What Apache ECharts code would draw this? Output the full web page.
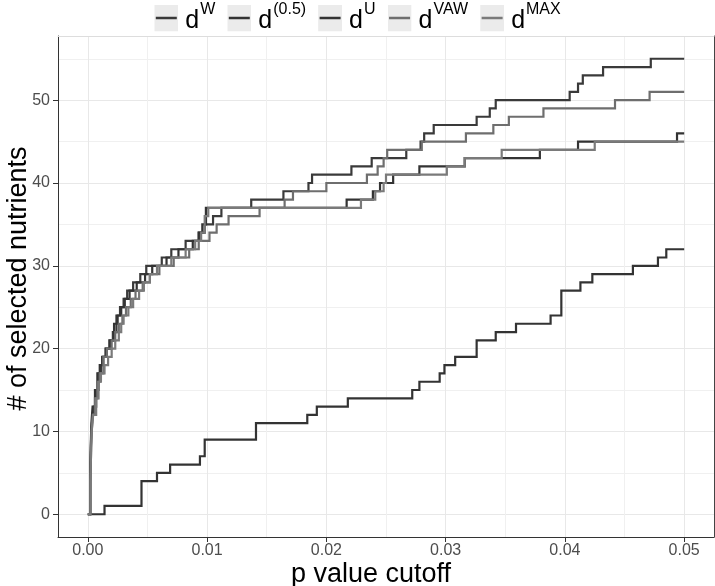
<!DOCTYPE html>
<html><head><meta charset="utf-8">
<script src="https://cdn.jsdelivr.net/npm/echarts@6/dist/echarts.min.js"></script>
<style>html,body{margin:0;padding:0;background:#fff}#c{width:715px;height:586px}</style>
</head><body><div id="c"></div>
<script>
// ---- data (p value cutoff where the count changes, count from there on) ----
const seriesNames = ['W', '(0.5)', 'U', 'VAW', 'MAX'];

const dW_p = [0, 0.0002, 0.00025, 0.0003, 0.0004, 0.0005, 0.0007, 0.0009, 0.0011, 0.0013, 0.0015, 0.0018, 0.0021, 0.0024, 0.0027, 0.003, 0.0033, 0.0038, 0.0044, 0.0049, 0.0062, 0.007, 0.0082, 0.0093, 0.0098, 0.0105, 0.0112, 0.0137, 0.0164, 0.0185, 0.0188, 0.0221, 0.0238, 0.0267, 0.0279, 0.0282, 0.029, 0.0326, 0.0337, 0.0342, 0.0404, 0.0411, 0.0415, 0.0432, 0.0472, 0.05];
const dW_n = [0, 4, 8, 10, 12, 13, 15, 17, 18, 19, 20, 21, 22, 24, 25, 26, 27, 28, 29, 30, 31, 32, 33, 34, 35, 36, 37, 38, 39, 40, 41, 42, 43, 44, 45, 46, 47, 48, 49, 50, 51, 52, 53, 54, 55, 55];

const d05_p = [0, 0.0002, 0.00026, 0.0003, 0.0004, 0.0006, 0.0008, 0.001, 0.0012, 0.0015, 0.0019, 0.0022, 0.0025, 0.0028, 0.0031, 0.0035, 0.0041, 0.0048, 0.0054, 0.0066, 0.0076, 0.0088, 0.0093, 0.0096, 0.0099, 0.0217, 0.0239, 0.0245, 0.0256, 0.0278, 0.0316, 0.0379, 0.0411, 0.0494, 0.05];
const d05_n = [0, 5, 9, 11, 13, 15, 17, 18, 19, 20, 21, 23, 24, 25, 26, 27, 28, 29, 30, 31, 32, 33, 34, 35, 37, 38, 39, 40, 41, 42, 43, 44, 45, 46, 46];

const dU_p = [0, 0.0014, 0.0045, 0.0058, 0.0069, 0.0094, 0.0098, 0.0141, 0.0184, 0.0192, 0.0218, 0.0272, 0.0278, 0.0295, 0.0299, 0.0308, 0.0326, 0.0342, 0.0359, 0.0388, 0.0397, 0.0413, 0.0423, 0.0457, 0.0478, 0.0485, 0.05];
const dU_n = [0, 1, 4, 5, 6, 7, 9, 11, 12, 13, 14, 15, 16, 17, 18, 19, 21, 22, 23, 24, 27, 28, 29, 30, 31, 32, 32];

const dVAW_p = [0, 0.00022, 0.00028, 0.00033, 0.00042, 0.0006, 0.0008, 0.001, 0.0013, 0.0016, 0.002, 0.0023, 0.0026, 0.0029, 0.0032, 0.0036, 0.004, 0.0046, 0.0052, 0.006, 0.0072, 0.0085, 0.0093, 0.0102, 0.0108, 0.0118, 0.0144, 0.0165, 0.0172, 0.02, 0.0234, 0.0243, 0.0248, 0.0251, 0.028, 0.0317, 0.034, 0.0353, 0.0382, 0.0442, 0.0471, 0.05];
const dVAW_n = [0, 4, 8, 10, 12, 14, 16, 17, 19, 20, 21, 22, 23, 24, 25, 26, 27, 28, 29, 30, 31, 32, 33, 34, 35, 36, 37, 38, 39, 40, 41, 42, 43, 44, 45, 46, 47, 48, 49, 50, 51, 51];

const dMAX_p = [0, 0.00022, 0.00028, 0.00032, 0.00045, 0.0007, 0.0009, 0.0011, 0.0014, 0.0017, 0.002, 0.0023, 0.0026, 0.0028, 0.003, 0.0034, 0.0038, 0.0043, 0.0047, 0.0052, 0.0058, 0.007, 0.0082, 0.009, 0.0095, 0.0098, 0.0101, 0.0229, 0.0241, 0.0248, 0.025, 0.0301, 0.0316, 0.0347, 0.0425, 0.05];
const dMAX_n = [0, 4, 8, 10, 12, 14, 16, 17, 18, 19, 20, 21, 22, 23, 24, 25, 26, 27, 28, 29, 30, 31, 32, 33, 34, 36, 37, 38, 39, 40, 41, 42, 43, 44, 45, 45];

const xTicks = [0, 0.01, 0.02, 0.03, 0.04, 0.05];
const xMinor = [0.005, 0.015, 0.025, 0.035, 0.045];
const yTicks = [0, 10, 20, 30, 40, 50];
const yMinor = [5, 15, 25, 35, 45, 55];

// ---- styling ----
const colors = ['#3a3a3a', '#333333', '#333333', '#6e6e6e', '#7a7a7a'];
const FONT = 'Liberation Sans, Arial, Helvetica, sans-serif';
const pairs = (p, n) => p.slice(0, Math.min(p.length, n.length)).map((v, i) => [v, n[i]]);
const allData = [pairs(dW_p, dW_n), pairs(d05_p, d05_n), pairs(dU_p, dU_n), pairs(dVAW_p, dVAW_n), pairs(dMAX_p, dMAX_n)];

function keyIcon(color) {
  const svg = "<svg xmlns='http://www.w3.org/2000/svg' width='24' height='27'>" +
    "<rect width='24' height='27' fill='#ebebeb'/>" +
    "<line x1='1.5' y1='13.5' x2='22.5' y2='13.5' stroke='" + color + "' stroke-width='2.4'/></svg>";
  return 'image://data:image/svg+xml;charset=utf-8,' + encodeURIComponent(svg);
}

const chart = echarts.init(document.getElementById('c'), null, {renderer: 'canvas'});
const xBase = {type: 'value', min: -0.0025, max: 0.0525, gridIndex: 0};
const yBase = {type: 'value', min: -2.75, max: 57.75, gridIndex: 0};

chart.setOption({
  animation: false,
  backgroundColor: '#fff',
  grid: {left: 58, right: 1, top: 36, bottom: 49, containLabel: false, outerBoundsMode: 'none'},
  legend: {
    top: -3, left: 'center', itemGap: 12, itemWidth: 24, itemHeight: 27,
    data: seriesNames.map((n, i) => ({name: n, icon: keyIcon(colors[i])})),
    formatter: name => '{d|d}{s|' + name + '}',
    textStyle: {
      fontFamily: FONT, color: '#000', padding: [0, 0, 0, 2],
      rich: {
        d: {fontSize: 25, fontFamily: FONT, color: '#000', lineHeight: 32, verticalAlign: 'bottom'},
        s: {fontSize: 16, fontFamily: FONT, color: '#000', lineHeight: 32, verticalAlign: 'top', padding: [0, 0, 0, 1]}
      }
    }
  },
  xAxis: [
    Object.assign({}, xBase, {
      name: 'p value cutoff', nameLocation: 'middle', nameGap: 24, nameMoveOverlap: false,
      nameTextStyle: {fontFamily: FONT, fontSize: 27, color: '#000', padding: [0, 30, 0, 0]},
      axisLine: {show: true, onZero: false, lineStyle: {color: '#333', width: 1}},
      axisTick: {show: true, length: 5, customValues: xTicks, lineStyle: {color: '#333'}},
      axisLabel: {show: true, customValues: xTicks, margin: 6, fontFamily: FONT, fontSize: 16, color: '#4d4d4d',
        formatter: v => v.toFixed(2)},
      splitLine: {show: true, lineStyle: {color: '#e8e8e8', width: 1}}
    }),
    Object.assign({}, xBase, {
      position: 'bottom',
      axisLine: {show: false}, axisLabel: {show: false},
      axisTick: {show: false, customValues: xMinor},
      splitLine: {show: true, lineStyle: {color: '#f0f0f0', width: 1}}
    }),
    Object.assign({}, xBase, {
      position: 'top',
      axisLine: {show: true, onZero: false, lineStyle: {color: '#dddddd', width: 1}},
      axisLabel: {show: false}, axisTick: {show: false}, splitLine: {show: false}
    })
  ],
  yAxis: [
    Object.assign({}, yBase, {
      name: '# of selected nutrients', nameLocation: 'middle', nameGap: 26, nameRotate: 90, nameMoveOverlap: false,
      nameTextStyle: {fontFamily: FONT, fontSize: 27, color: '#000', padding: [0, 0, 0, 16]},
      axisLine: {show: true, onZero: false, lineStyle: {color: '#333', width: 1}},
      axisTick: {show: true, length: 5, customValues: yTicks, lineStyle: {color: '#333'}},
      axisLabel: {show: true, customValues: yTicks, margin: 8, fontFamily: FONT, fontSize: 16, color: '#4d4d4d'},
      splitLine: {show: true, lineStyle: {color: '#e8e8e8', width: 1}}
    }),
    Object.assign({}, yBase, {
      position: 'left',
      axisLine: {show: false}, axisLabel: {show: false},
      axisTick: {show: false, customValues: yMinor},
      splitLine: {show: true, lineStyle: {color: '#f0f0f0', width: 1}}
    }),
    Object.assign({}, yBase, {
      position: 'right',
      axisLine: {show: true, onZero: false, lineStyle: {color: '#444', width: 1}},
      axisLabel: {show: false}, axisTick: {show: false}, splitLine: {show: false}
    })
  ],
  series: seriesNames.map((n, i) => ({
    name: n, type: 'line', step: 'end', xAxisIndex: 0, yAxisIndex: 0,
    data: allData[i], showSymbol: false, symbol: 'none',
    color: colors[i],
    lineStyle: {color: colors[i], width: 2.2, join: 'miter'},
    emphasis: {disabled: true}
  }))
});
</script>
</body></html>
